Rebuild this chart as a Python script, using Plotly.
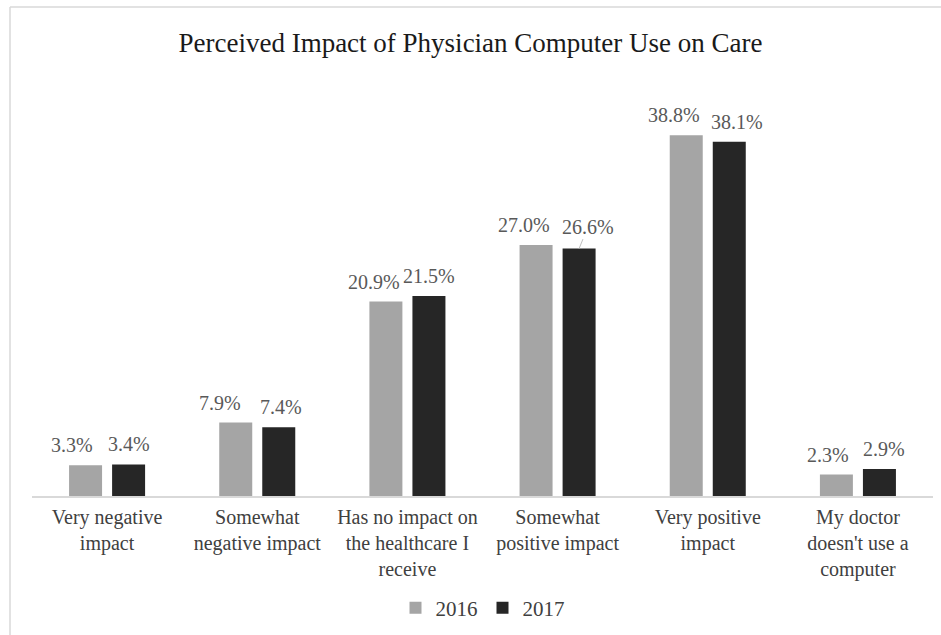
import plotly.graph_objects as go

# Survey response shares (%) by year
categories = [
    "Very negative<br>impact",
    "Somewhat<br>negative impact",
    "Has no impact on<br>the healthcare I<br>receive",
    "Somewhat<br>positive impact",
    "Very positive<br>impact",
    "My doctor<br>doesn't use a<br>computer",
]
values_2016 = [3.3, 7.9, 20.9, 27.0, 38.8, 2.3]
values_2017 = [3.4, 7.4, 21.5, 26.6, 38.1, 2.9]
series_names = ["2016", "2017"]

# Label nudges in pixels (horizontal) so neighbouring labels don't collide
nudge_2016 = [-14, -16, -12, -12, -12, -8]
nudge_2017 = [0, 2, 0, 9, 8, 5]

W, H = 941, 635
L, R, T, B = 32, 8, 105, 139
plot_w = W - L - R
plot_h = H - T - B
Y_MAX = 42.04

FONT = "Liberation Serif, Times New Roman, serif"
GRAY = "#a5a5a5"
DARK = "#262626"
LABEL = "#595959"

fig = go.Figure()
fig.add_trace(go.Bar(name=series_names[0], x=categories, y=values_2016,
                     marker=dict(color=GRAY, line=dict(width=0))))
fig.add_trace(go.Bar(name=series_names[1], x=categories, y=values_2017,
                     marker=dict(color=DARK, line=dict(width=0))))

bar_half = 21.5  # px offset of each bar centre from category centre
annotations = []
for vals, nudges, side in ((values_2016, nudge_2016, -1), (values_2017, nudge_2017, 1)):
    for cat, v, n in zip(categories, vals, nudges):
        if v == 26.6:
            # label lifted off the bar with a short leader line
            annotations.append(dict(
                x=cat, y=v, xref="x", yref="y", text=f"{v:.1f}%",
                xshift=side * bar_half, showarrow=True, arrowhead=0,
                arrowwidth=1, arrowcolor="#bfbfbf", ax=n, ay=-22, standoff=0,
                font=dict(family=FONT, size=20, color=LABEL)))
        else:
            annotations.append(dict(
                x=cat, y=v, xref="x", yref="y", text=f"{v:.1f}%",
                xshift=side * bar_half + n, yshift=20, showarrow=False,
                yanchor="middle", xanchor="center",
                font=dict(family=FONT, size=20, color=LABEL)))


def px_x(px):
    return (px - L) / plot_w


def px_y(py):
    return (H - B - py) / plot_h


shapes = [
    dict(type="line", xref="paper", yref="paper", x0=px_x(10), x1=px_x(W),
         y0=px_y(7), y1=px_y(7), line=dict(color="#d9d9d9", width=1.5)),
    dict(type="line", xref="paper", yref="paper", x0=px_x(10), x1=px_x(10),
         y0=px_y(7), y1=px_y(H), line=dict(color="#d9d9d9", width=1.5)),
]

fig.update_layout(
    width=W, height=H,
    margin=dict(l=L, r=R, t=T, b=B, autoexpand=False),
    paper_bgcolor="white", plot_bgcolor="white",
    barmode="group", bargap=0.427, bargroupgap=0.233,
    title=dict(text="Perceived Impact of Physician Computer Use on Care",
               x=0.5, xanchor="center", y=1 - 43 / H, yanchor="middle",
               yref="container",
               font=dict(family=FONT, size=27, color="#1a1a1a")),
    font=dict(family=FONT, color="#404040"),
    xaxis=dict(showline=True, linecolor="#d9d9d9", linewidth=1.5,
               showgrid=False, ticks="", ticklabelstandoff=2,
               tickfont=dict(family=FONT, size=20, color="#404040")),
    yaxis=dict(range=[0, Y_MAX], visible=False, showgrid=False),
    legend=dict(orientation="h", x=0.5, xanchor="center", y=px_y(608),
                yanchor="middle", font=dict(family=FONT, size=21, color="#404040"),
                itemwidth=30, traceorder="normal"),
    annotations=annotations,
    shapes=shapes,
    showlegend=True,
)

fig.write_html("out.html")
